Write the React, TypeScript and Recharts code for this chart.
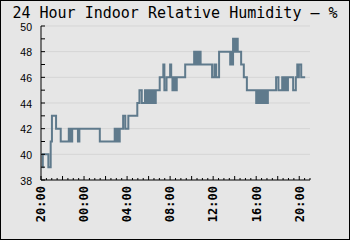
import { LineChart, Line, XAxis, YAxis, CartesianGrid } from 'recharts'

// minutes since 20:00 and relative humidity (%) at each change
const minutes = [
  8, 10, 41, 54, 61, 84, 110, 155, 160, 165, 170, 174, 206, 214, 328, 411, 416, 421, 426, 431, 436, 439,
  458, 470, 487, 537, 549, 562, 580, 585, 590, 595, 600, 605, 610, 615, 620, 625, 630, 635, 640, 662,
  682, 688, 700, 720, 726, 733, 738, 742, 747, 751, 757, 804, 854, 859, 864, 869, 874, 879, 884, 890,
  954, 967, 977, 993, 1055, 1062, 1066, 1071, 1076, 1080, 1085, 1089, 1097, 1116, 1131, 1148, 1200,
  1205, 1210, 1215, 1220, 1226, 1233, 1238, 1243, 1248, 1253, 1258, 1262, 1265, 1311, 1324, 1345, 1350,
  1355, 1360, 1366, 1371, 1377, 1406, 1421, 1429, 1434, 1438, 1451, 1473,
]
const humidity = [
  39, 40, 39, 41, 43, 42, 41, 42, 41, 42, 41, 42, 41, 42, 41, 42, 41, 42, 41, 42, 41, 42,
  43, 42, 43, 44, 45, 44, 45, 44, 45, 44, 45, 44, 45, 44, 45, 44, 45, 44, 45, 46,
  47, 45, 46, 47, 46, 45, 46, 45, 46, 45, 46, 47, 48, 47, 48, 47, 48, 47, 48, 47,
  46, 47, 46, 48, 47, 48, 47, 49, 48, 49, 48, 49, 48, 47, 46, 45, 44,
  45, 44, 45, 44, 45, 44, 45, 44, 45, 44, 45, 44, 45, 46, 45, 46, 45,
  46, 45, 46, 45, 46, 45, 46, 47, 46, 47, 46, 46,
]
const timeLabels = ['20:00', '00:00', '04:00', '08:00', '12:00', '16:00', '20:00']
const yTicks = [38, 39, 40, 41, 42, 43, 44, 45, 46, 47, 48, 49, 50]
const gridValues = [40, 42, 44, 46, 48, 50]

const data = minutes.map((m, i) => ({ m, h: humidity[i] }))
const xTicks = Array.from({ length: 51 }, (_, i) => i * 30)

function XTick({ x, y, payload }: any) {
  const v = payload.value
  const len = v % 120 === 0 ? 4 : 2
  const label = v % 240 === 0 ? timeLabels[v / 240] : null
  const ly = y + 6
  return (
    <g>
      <line x1={x} x2={x} y1={y} y2={y - len} stroke="#000" />
      {label && (
        <text
          x={x}
          y={ly}
          dy="0.36em"
          transform={`rotate(-90 ${x} ${ly})`}
          textAnchor="end"
          fontFamily="DejaVu Sans Mono"
          fontWeight="bold"
          fontSize={12}
          fill="#000"
        >
          {label}
        </text>
      )}
    </g>
  )
}

function YTick({ x, y, payload }: any) {
  const v = payload.value
  return (
    <g>
      <line x1={x} x2={x + 4} y1={y} y2={y} stroke="#000" />
      {v % 2 === 0 && (
        <text x={x - 9} y={y + 1} dy="0.35em" textAnchor="end" fontFamily="Liberation Sans" fontSize={10.5} fill="#000">
          {v}
        </text>
      )}
    </g>
  )
}

export default function App() {
  return (
    <div style={{ position: 'fixed', left: 0, top: 0, width: 350, height: 240, background: '#e6e6e6' }}>
      <LineChart width={350} height={240} data={data} margin={{ top: 26, right: 40, bottom: 8, left: 8 }}>
        <CartesianGrid horizontal vertical={false} horizontalValues={gridValues} stroke="#d5d5d5" />
        <XAxis
          dataKey="m"
          type="number"
          domain={[0, 1500]}
          ticks={xTicks}
          interval={0}
          height={52}
          tickSize={0}
          tickMargin={0}
          axisLine={{ stroke: '#000' }}
          tick={<XTick />}
        />
        <YAxis
          type="number"
          domain={[38, 50]}
          ticks={yTicks}
          interval={0}
          width={33}
          tickSize={0}
          tickMargin={0}
          axisLine={{ stroke: '#000' }}
          tick={<YTick />}
        />
        <Line
          dataKey="h"
          type="stepAfter"
          stroke="#5f7a8c"
          strokeWidth={2}
          dot={false}
          isAnimationActive={false}
        />
      </LineChart>
      <svg width={350} height={240} style={{ position: 'absolute', left: 0, top: 0, pointerEvents: 'none' }}>
        <text x={175} y={18} textAnchor="middle" fontFamily="DejaVu Sans Mono" fontSize={15} fill="#000">
          24 Hour Indoor Relative Humidity – %
        </text>
        <rect x={0.5} y={0.5} width={349} height={239} fill="none" stroke="#000" />
      </svg>
    </div>
  )
}
